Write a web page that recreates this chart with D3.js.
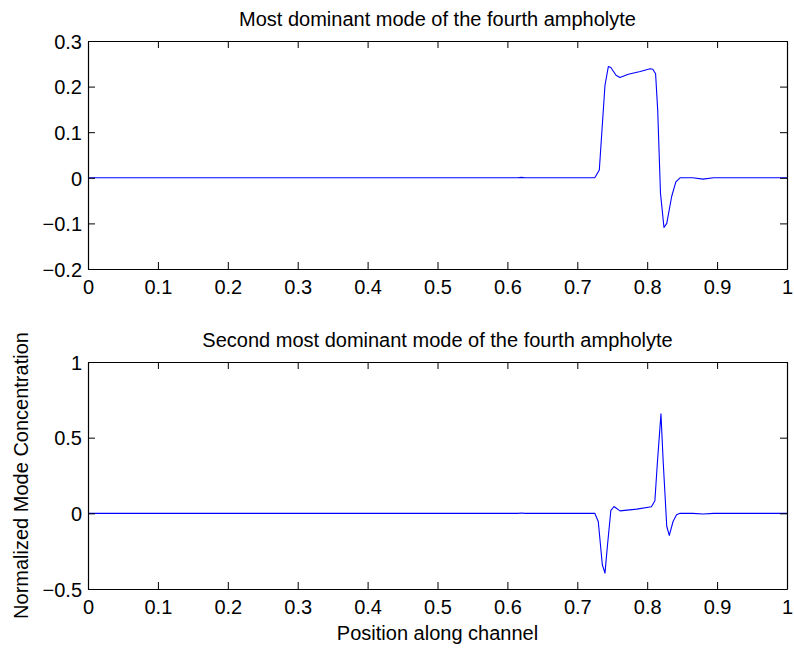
<!DOCTYPE html>
<html>
<head>
<meta charset="utf-8">
<script src="https://cdn.jsdelivr.net/npm/d3@7"></script>
<style>
  html, body { margin: 0; padding: 0; background: #fff; }
  svg { display: block; }
  text { font-family: "Liberation Sans", Arial, Helvetica, sans-serif; fill: #000; }
</style>
</head>
<body>
<svg id="chart" width="794" height="648"></svg>
<script>
// Position along the channel (normalized)
const topX = [0, 0.30, 0.60, 0.615, 0.62, 0.625, 0.70, 0.725, 0.7315, 0.7396, 0.7444, 0.748, 0.7554, 0.761, 0.773, 0.790, 0.804, 0.808, 0.812, 0.815, 0.819, 0.824, 0.828, 0.835, 0.841, 0.847, 0.865, 0.880, 0.895, 1.0];
// Most dominant mode values
const topY = [0, 0, 0, 0, 0.001, 0, 0, 0, 0.017, 0.203, 0.244, 0.242, 0.225, 0.220, 0.227, 0.233, 0.239, 0.238, 0.228, 0.149, -0.034, -0.109, -0.100, -0.041, -0.009, 0, 0, -0.003, 0, 0];

const botX = [0, 0.30, 0.60, 0.615, 0.62, 0.625, 0.70, 0.725, 0.730, 0.7358, 0.7396, 0.743, 0.748, 0.7525, 0.761, 0.785, 0.806, 0.811, 0.8145, 0.8197, 0.823, 0.828, 0.8316, 0.837, 0.842, 0.847, 0.865, 0.880, 0.895, 1.0];
// Second most dominant mode values
const botY = [0, 0, 0, 0, 0.002, 0, 0, 0, -0.054, -0.34, -0.395, -0.219, 0.019, 0.045, 0.016, 0.028, 0.043, 0.083, 0.331, 0.657, 0.331, -0.087, -0.146, -0.054, -0.01, 0, 0, -0.004, 0, 0];

const xTicks = [0, 0.1, 0.2, 0.3, 0.4, 0.5, 0.6, 0.7, 0.8, 0.9, 1];
const topYTicks = [-0.2, -0.1, 0, 0.1, 0.2, 0.3];
const botYTicks = [-0.5, 0, 0.5, 1];

const titles = ["Most dominant mode of the fourth ampholyte", "Second most dominant mode of the fourth ampholyte"];
const xLabel = "Position along channel";
const yLabel = "Normalized Mode Concentration";

const svg = d3.select("#chart");
const left = 88, right = 787;
const panels = [
  { top: 41, bottom: 269, domain: [-0.2, 0.3], ticks: topYTicks, xs: topX, ys: topY, title: titles[0] },
  { top: 362, bottom: 589, domain: [-0.5, 1], ticks: botYTicks, xs: botX, ys: botY, title: titles[1] }
];

const fmt = v => (v < 0 ? "\u2212" + d3.format("")(Math.abs(v)) : d3.format("")(v));
const tickLen = 7;

panels.forEach(p => {
  const x = d3.scaleLinear().domain([0, 1]).range([left, right]);
  const y = d3.scaleLinear().domain(p.domain).range([p.bottom, p.top]);
  const g = svg.append("g");

  // data line
  const pts = p.xs.map((v, i) => [v, p.ys[i]]);
  g.append("path")
    .datum(pts)
    .attr("fill", "none")
    .attr("stroke", "#0000ff")
    .attr("stroke-width", 1.1)
    .attr("stroke-linejoin", "round")
    .attr("d", d3.line().x(d => x(d[0])).y(d => y(d[1])));

  // bottom axis with labels
  const xa = g.append("g").attr("transform", `translate(0,${p.bottom})`)
    .call(d3.axisBottom(x).tickValues(xTicks).tickSizeInner(-tickLen).tickSizeOuter(0).tickPadding(11).tickFormat(d3.format("")));
  // left axis with labels
  const ya = g.append("g").attr("transform", `translate(${left},0)`)
    .call(d3.axisLeft(y).tickValues(p.ticks).tickSizeInner(-tickLen).tickSizeOuter(0).tickPadding(6).tickFormat(fmt));
  // top and right axes (ticks only)
  const xt = g.append("g").attr("transform", `translate(0,${p.top})`)
    .call(d3.axisTop(x).tickValues(xTicks).tickSizeInner(-tickLen).tickSizeOuter(0).tickFormat(""));
  const yr = g.append("g").attr("transform", `translate(${right},0)`)
    .call(d3.axisRight(y).tickValues(p.ticks).tickSizeInner(-tickLen).tickSizeOuter(0).tickFormat(""));

  [xa, ya, xt, yr].forEach(a => {
    a.select(".domain").attr("stroke", "#000").attr("stroke-width", 1.2);
    a.selectAll(".tick line").attr("stroke", "#000").attr("stroke-width", 1);
    a.selectAll("text").attr("font-size", 20).attr("font-family", "Liberation Sans, Arial, sans-serif").attr("fill", "#000");
  });
  xa.selectAll("text").attr("dy", "0.71em");
  ya.selectAll("text").attr("dy", "0.36em");

  // title
  svg.append("text")
    .attr("x", (left + right) / 2)
    .attr("y", p.top - 15)
    .attr("text-anchor", "middle")
    .attr("font-size", 20)
    .text(p.title);
});

// x label
svg.append("text")
  .attr("x", (left + right) / 2)
  .attr("y", 640)
  .attr("text-anchor", "middle")
  .attr("font-size", 20)
  .text(xLabel);

// y label, centered on the lower panel
svg.append("text")
  .attr("transform", `translate(28,${(362 + 589) / 2}) rotate(-90)`)
  .attr("text-anchor", "middle")
  .attr("font-size", 20)
  .text(yLabel);
</script>
</body>
</html>
